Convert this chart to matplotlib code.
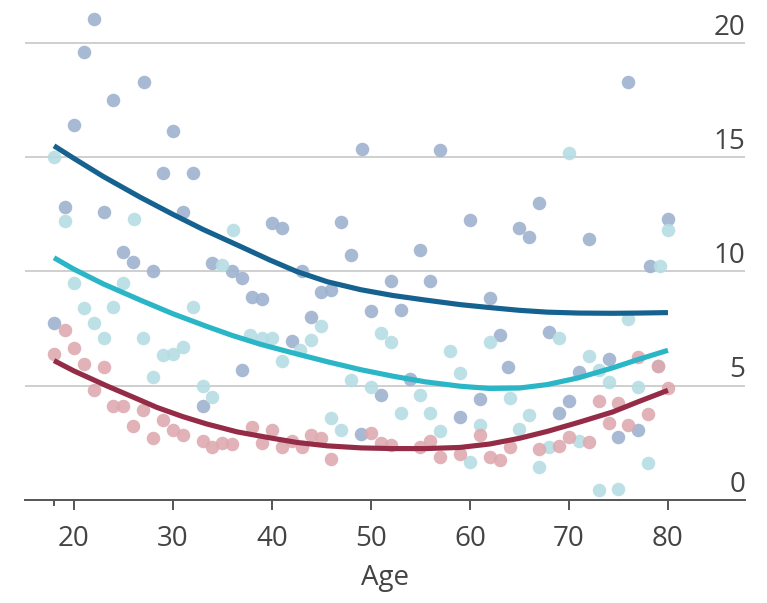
import matplotlib
matplotlib.use('Agg')
import matplotlib.pyplot as plt
from matplotlib import font_manager
import matplotlib.transforms as mtransforms

# scatter data (age, value)
dark_age = [22, 21, 27.1, 24, 20, 30, 29, 32, 19.1, 23, 31, 25, 26, 28, 34, 36, 37, 38, 39, 18,
            37, 33, 48, 55, 43, 52, 56, 45, 46, 62, 50, 53, 44, 42, 63, 63.8, 54, 51, 61, 59,
            49, 49.1, 57, 40, 41, 47, 60, 76, 67, 65, 66, 72, 80, 78.2, 68, 74, 71, 79, 70, 69,
            77, 75]
dark_val = [21.05, 19.6, 18.3, 17.5, 16.4, 16.15, 14.3, 14.3, 12.8, 12.6, 12.6, 10.85, 10.4, 10.0,
            10.35, 10.0, 9.7, 8.9, 8.8, 7.75, 5.7, 4.1, 10.7, 10.95, 10.0, 9.6, 9.6, 9.1, 9.2,
            8.85, 8.25, 8.3, 8.0, 6.95, 7.2, 5.8, 5.3, 4.6, 4.4, 3.65, 2.9, 15.35, 15.3, 12.1,
            11.9, 12.15, 12.25, 18.3, 13.0, 11.9, 11.5, 11.4, 12.3, 10.25, 7.35, 6.15, 5.6, 5.85,
            4.35, 3.8, 3.05, 2.75]

cyan_age = [18, 19.1, 26.1, 36.1, 35, 20, 25, 21, 24, 32, 22, 23, 27, 29, 30, 31, 28, 33, 34,
            45, 37.8, 39, 40, 51, 52, 44, 42.8, 41, 62, 58, 59, 48, 50, 55, 46, 53, 56, 47, 57,
            61, 60, 70, 80, 79.2, 76, 69, 72, 73, 74, 64, 77, 66, 65, 71, 68, 67, 78, 73, 75]
cyan_val = [15.0, 12.2, 12.3, 11.8, 10.3, 9.5, 9.5, 8.4, 8.45, 8.45, 7.75, 7.1, 7.1, 6.35, 6.4,
            6.7, 5.4, 5.0, 4.5, 7.6, 7.2, 7.1, 7.1, 7.3, 6.9, 7.0, 6.55, 6.1, 6.9, 6.5, 5.55,
            5.25, 4.95, 4.6, 3.6, 3.8, 3.8, 3.05, 3.0, 3.3, 1.65, 15.2, 11.8, 10.25, 7.9, 7.1,
            6.3, 5.7, 5.15, 4.45, 4.95, 3.7, 3.1, 2.6, 2.3, 1.45, 1.6, 0.45, 0.5]

red_age = [19.1, 18, 20, 21, 23, 22, 24, 25, 27, 26, 29, 28, 30, 31, 33, 34, 35, 36, 38, 40,
           39, 41, 42, 43, 44, 45, 46, 50, 51, 52, 55, 56, 57, 59, 61, 62, 63, 77, 80, 73, 75,
           78, 74, 76, 72, 70, 69, 67, 64, 79]
red_val = [7.45, 6.4, 6.65, 5.95, 5.8, 4.8, 4.1, 4.1, 3.95, 3.25, 3.5, 2.7, 3.05, 2.85, 2.6, 2.3,
           2.5, 2.45, 3.2, 3.05, 2.5, 2.3, 2.6, 2.3, 2.85, 2.7, 1.8, 2.95, 2.5, 2.4, 2.3, 2.6,
           1.9, 2.0, 2.85, 1.9, 1.75, 6.25, 4.9, 4.35, 4.25, 3.75, 3.35, 3.3, 2.55, 2.75, 2.35,
           2.25, 2.3, 5.85]

# fitted curves
dark_fit_age = [18, 20, 23, 26.7, 30, 33, 36.8, 39.8, 42.5, 45.6, 49, 52.2, 55.5, 59, 62, 65,
                67.8, 71, 74.4, 77, 80]
dark_fit_val = [15.5, 14.95, 14.15, 13.25, 12.5, 11.85, 11.1, 10.5, 10.0, 9.55, 9.2, 8.95, 8.75,
                8.55, 8.42, 8.3, 8.22, 8.18, 8.17, 8.18, 8.2]
cyan_fit_age = [18, 20, 23, 26.7, 30, 33.4, 36, 38.8, 42, 45.6, 49, 52.2, 55.5, 59, 62, 65,
                67.8, 71, 74.4, 77, 80]
cyan_fit_val = [10.6, 10.1, 9.45, 8.75, 8.15, 7.6, 7.2, 6.82, 6.45, 6.05, 5.7, 5.42, 5.17, 4.98,
                4.88, 4.9, 5.05, 5.35, 5.78, 6.15, 6.55]
red_fit_age = [18, 20, 23.3, 26, 28.4, 31, 33.4, 36.5, 39.8, 42.5, 45.6, 49, 52.2, 55.5, 59, 62,
               65, 67.8, 71, 74.4, 77, 80]
red_fit_val = [6.1, 5.65, 5.0, 4.5, 4.05, 3.65, 3.33, 2.98, 2.72, 2.52, 2.37, 2.28, 2.25, 2.25,
               2.3, 2.45, 2.7, 3.0, 3.4, 3.85, 4.3, 4.8]

x_ticks = [20, 30, 40, 50, 60, 70, 80]
y_ticks = [0, 5, 10, 15, 20]

avail = {f.name for f in font_manager.fontManager.ttflist}
font = 'Open Sans' if 'Open Sans' in avail else 'DejaVu Sans'
plt.rcParams['font.family'] = [font, 'DejaVu Sans']

fig = plt.figure(figsize=(7.67, 6.03), dpi=100)
ax = fig.add_axes([25 / 767, 103 / 603, 720 / 767, 495 / 603])
ax.set_xlim(15.07, 87.78)
ax.set_ylim(0, 21.66)

for v in y_ticks[1:]:
    ax.axhline(v, color='#cfcfcf', lw=1.4, zorder=0)

ax.scatter(dark_age, dark_val, s=95, color='#9fb2cf', alpha=0.9, lw=0, zorder=2, clip_on=False)
ax.scatter(cyan_age, cyan_val, s=95, color='#b5dde3', alpha=0.9, lw=0, zorder=2, clip_on=False)
ax.scatter(red_age, red_val, s=95, color='#deaab0', alpha=0.9, lw=0, zorder=2, clip_on=False)

ax.plot(dark_fit_age, dark_fit_val, color='#15618f', lw=3.7, solid_capstyle='butt',
        solid_joinstyle='round', zorder=3)
ax.plot(cyan_fit_age, cyan_fit_val, color='#2ab6c7', lw=3.7, solid_capstyle='butt',
        solid_joinstyle='round', zorder=3)
ax.plot(red_fit_age, red_fit_val, color='#952c47', lw=3.7, solid_capstyle='butt',
        solid_joinstyle='round', zorder=3)

for s in ['top', 'right', 'left']:
    ax.spines[s].set_visible(False)
ax.spines['bottom'].set_color('#555555')
ax.spines['bottom'].set_linewidth(1.4)

ax.set_yticks([])
ax.set_xticks(x_ticks)
ax.set_xticks([18], minor=True)
ax.tick_params(axis='x', which='major', length=7, width=1.4, color='#555555',
               labelsize=20, labelcolor='#444444', pad=11)
ax.tick_params(axis='x', which='minor', length=4, width=1.4, color='#555555')

trans = mtransforms.blended_transform_factory(ax.transAxes, ax.transData)
for v in y_ticks:
    ax.annotate(str(v), xy=(1.0, v), xycoords=trans, xytext=(0, 6), textcoords='offset points',
                ha='right', va='baseline', fontsize=20, color='#444444')

ax.set_xlabel('Age', fontsize=20, color='#444444', labelpad=8)

fig.savefig('out.png', dpi=100)
